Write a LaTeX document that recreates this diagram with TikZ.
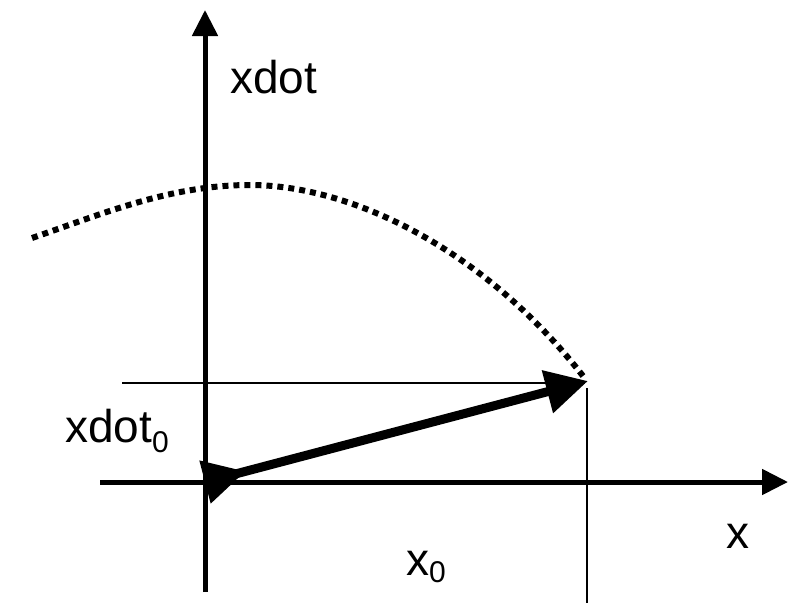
\documentclass[tikz,border=0pt]{standalone}
\usepackage{fontspec}
\setmainfont{Liberation Sans}
\usetikzlibrary{arrows.meta}
\begin{document}
\begin{tikzpicture}[x=1pt,y=-1pt,
  axis/.style={line width=5pt,-{Triangle[length=26pt,width=25pt]}},
  thinline/.style={line width=1.5pt},
  vec/.style={line width=9pt,{Triangle[length=42pt,width=42pt,reversed]}-{Triangle[length=42pt,width=42pt]}},
  dots/.style={line width=6pt,dash pattern=on 6pt off 5pt,line cap=butt},
  lab/.style={anchor=base west,inner sep=0pt,font=\fontsize{46}{50}\selectfont}]
\useasboundingbox (0,0) rectangle (799,603);
\coordinate (O) at (205,482);
\coordinate (yb) at (205,592);
\coordinate (yt) at (205,10);
\coordinate (xl) at (100,482);
\coordinate (xr) at (788,482);
\coordinate (P) at (588,381);
\coordinate (hl) at (122,383);
\coordinate (hr) at (585,383);
\coordinate (vt) at (587,388);
\coordinate (vb) at (587,603);
\coordinate (c0) at (32,238);
\coordinate (cpk) at (250,185);
\coordinate (c1) at (583,376);
\draw[axis] (yb) -- (yt);
\draw[axis] (xl) -- (xr);
\draw[thinline] (hl) -- (hr);
\draw[thinline] (vt) -- (vb);
\draw[dots] (c0) .. controls (102,214) and (170,185) .. (cpk)
  .. controls (350,185) and (483,248) .. (c1);
\draw[vec] (O) -- (P);
\node[lab] (ydot) at (230,93) {xdot};
\node[lab] (ydot0) at (65,442) {xdot\raisebox{-10pt}{\fontsize{30}{30}\selectfont 0}};
\node[lab] (xlab) at (726,548) {x};
\node[lab] (x0) at (406,575) {x\raisebox{-7pt}{\fontsize{30}{30}\selectfont 0}};
\end{tikzpicture}
\end{document}
